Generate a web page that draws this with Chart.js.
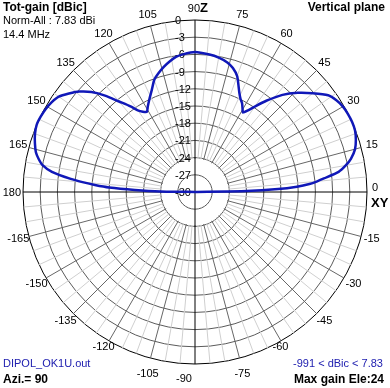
<!DOCTYPE html>
<html lang="en">
<head>
<meta charset="UTF-8">
<title>Vertical plane</title>
<script src="https://cdn.jsdelivr.net/npm/chart.js"></script>
<style>
  body { margin: 0; background: #fff; }
  #wrap { position: relative; width: 390px; height: 388px; font-family: "Liberation Sans", Arial, sans-serif; }
  .txt { position: absolute; font-size: 11px; line-height: 13px; white-space: nowrap; color: #000; }
  .b { font-weight: bold; font-size: 12px; line-height: 14px; }
  .blue { color: #2020b0; }
</style>
</head>
<body>
<div id="wrap">
  <canvas id="pattern"></canvas>
  <div class="txt b" style="left:3px; top:0px;">Tot-gain [dBic]</div>
  <div class="txt" style="left:3px; top:14px;">Norm-All : 7.83 dBi</div>
  <div class="txt" style="left:3px; top:28px;">14.4 MHz</div>
  <div class="txt b" style="right:5px; top:0px;">Vertical plane</div>
  <div class="txt blue" style="left:3px; top:357px;">DIPOL_OK1U.out</div>
  <div class="txt b" style="left:3px; top:372px;">Azi.= 90</div>
  <div class="txt blue" style="right:7px; top:357px;">-991 &lt; dBic &lt; 7.83</div>
  <div class="txt b" style="right:6px; top:372px;">Max gain Ele:24</div>
</div>
<script>
  // elevation angle (deg) and total gain (dBic)
  const elevations = [0, 1, 2, 3, 4, 5, 6, 8, 10, 12, 15, 18, 21, 24, 27, 30, 33, 36, 40, 44, 48, 52, 55, 57, 59,
    60, 62, 64, 66, 68, 70, 73, 76, 80, 84, 90, 95, 98, 101, 104, 107, 110, 113, 116, 119, 121, 123, 125, 127,
    130, 133, 136, 139, 142, 145, 148, 151, 154, 157, 160, 163, 166, 168, 170, 172, 174, 175, 176, 177, 178, 179, 180];
  const gains = [-30, -21, -15.5, -12.2, -10, -8.6, -7.4, -4.7, -3.3, -2.2, -1.1, -0.5, -0.1, 0, -0.05, -0.2, -0.6, -1.3, -3.2, -5.1, -7.2, -9.8, -11.8, -13, -13.8,
    -13.4, -12.5, -11.9, -11, -9.8, -8.5, -7.4, -6.7, -6.2, -5.9, -5.6, -5.9, -6.2, -6.8, -7.5, -8.3, -9.2, -10.7, -11.9, -13, -13.7, -13.3, -12.6, -11.3,
    -9.4, -7, -4.9, -3.3, -2.1, -1, -0.5, -0.2, -0.05, 0, -0.3, -0.8, -1.4, -2.1, -3, -4.8, -8.2, -10.3, -12.5, -15, -19.5, -24, -30];
  const angleMarks = [90, 75, 60, 45, 30, 15, 0, -15, -30, -45, -60, -75, -90, -105, -120, -135, -150, -165,
    180, 165, 150, 135, 120, 105];
  const gainMin = -30, gainMax = 0, gainStep = 3;

  const FONT = '"Liberation Sans", Arial, sans-serif';
  const ringColor = '#5a5a5a';

  // one radar label per degree, 90 at the top, going clockwise
  const angleOf = i => { let a = 90 - i; if (a <= -180) a += 360; return a; };
  const indexOf = a => ((90 - a) % 360 + 360) % 360;
  const labels = Array.from({ length: 360 }, (_, i) => String(angleOf(i)));
  const series = new Array(360).fill(null);
  elevations.forEach((e, k) => { series[indexOf(e)] = gains[k]; });

  const polarDecor = {
    id: 'polarDecor',
    beforeDatasetsDraw(chart) {
      const s = chart.scales.r;
      const ctx = chart.ctx;
      const cx = s.xCenter, cy = s.yCenter;
      const rIn = s.getDistanceFromCenterForValue(-24);
      const rOut = s.getDistanceFromCenterForValue(gainMax);
      ctx.save();
      // no spokes inside the -24 ring
      ctx.fillStyle = '#fff';
      ctx.beginPath(); ctx.arc(cx, cy, rIn - 1, 0, Math.PI * 2); ctx.fill();
      ctx.strokeStyle = ringColor; ctx.lineWidth = 1;
      ctx.beginPath(); ctx.arc(cx, cy, s.getDistanceFromCenterForValue(-27), 0, Math.PI * 2); ctx.stroke();
      ctx.strokeStyle = '#000';
      ctx.beginPath();
      ctx.moveTo(cx - rIn, cy); ctx.lineTo(cx + rIn, cy);
      ctx.moveTo(cx, cy - rIn); ctx.lineTo(cx, cy + rIn);
      ctx.stroke();

      // dB ticks up the Z axis
      ctx.fillStyle = '#000';
      ctx.font = '11px ' + FONT;
      ctx.textAlign = 'left'; ctx.textBaseline = 'middle';
      s.ticks.forEach(t => {
        ctx.fillText(String(t.value), cx - 20, cy - s.getDistanceFromCenterForValue(t.value) + 1);
      });

      // angle labels
      angleMarks.forEach(a => {
        const i = indexOf(a);
        ctx.font = '11px ' + FONT;
        if (a === 90) {
          const p = s.getPointPosition(i, rOut);
          ctx.textAlign = 'right'; ctx.textBaseline = 'alphabetic';
          ctx.fillText('90', p.x + 5, p.y - 8);
          ctx.textAlign = 'left';
          ctx.font = 'bold 13px ' + FONT;
          ctx.fillText('Z', p.x + 5, p.y - 8);
        } else if (a === 0) {
          const p = s.getPointPosition(i, rOut);
          ctx.textAlign = 'left'; ctx.textBaseline = 'alphabetic';
          ctx.fillText('0', p.x + 5, p.y - 1);
          ctx.font = 'bold 13px ' + FONT;
          ctx.fillText('XY', p.x + 4, p.y + 15);
        } else if (a === 180) {
          const p = s.getPointPosition(i, rOut);
          ctx.textAlign = 'right'; ctx.textBaseline = 'middle';
          ctx.fillText('180', p.x - 2, p.y + 1);
        } else if (a === -90) {
          const p = s.getPointPosition(i, rOut);
          ctx.textAlign = 'center'; ctx.textBaseline = 'middle';
          ctx.fillText('-90', p.x - 11, p.y + 15);
        } else {
          const p = s.getPointPosition(i, rOut + 11);
          ctx.textAlign = 'center'; ctx.textBaseline = 'middle';
          const low = (a === -75 || a === -105) ? 5 : 0;
          const pull = (a === -60 || a === -120) ? -4 : 0;
          ctx.fillText(String(a), p.x + (a === -60 ? -6 : 0), p.y + low + pull);
        }
      });
      ctx.restore();
    }
  };

  new Chart(document.getElementById('pattern'), {
    type: 'radar',
    data: {
      labels: labels,
      datasets: [{
        data: series,
        borderColor: '#1018b8',
        borderWidth: 2.5,
        pointRadius: 0,
        fill: false,
        spanGaps: true,
        tension: 0.2
      }]
    },
    options: {
      responsive: true,
      maintainAspectRatio: false,
      animation: false,
      layout: { padding: { left: 23, right: 23, top: 20, bottom: 24 } },
      plugins: { legend: { display: false }, tooltip: { enabled: false } },
      scales: {
        r: {
          min: gainMin,
          max: gainMax,
          ticks: { display: false, stepSize: gainStep },
          pointLabels: { display: false },
          grid: {
            circular: true,
            lineWidth: 1,
            color: c => (c.tick && c.tick.value === gainMax ? '#000' : ringColor)
          },
          angleLines: {
            display: true,
            color: c => {
              const a = angleOf(c.index);
              return a % 90 === 0 ? '#000' : (a % 15 === 0 ? '#666' : '#cfcfcf');
            },
            lineWidth: c => (angleOf(c.index) % 5 === 0 ? 1 : 0)
          }
        }
      }
    },
    plugins: [polarDecor]
  });
</script>
</body>
</html>
